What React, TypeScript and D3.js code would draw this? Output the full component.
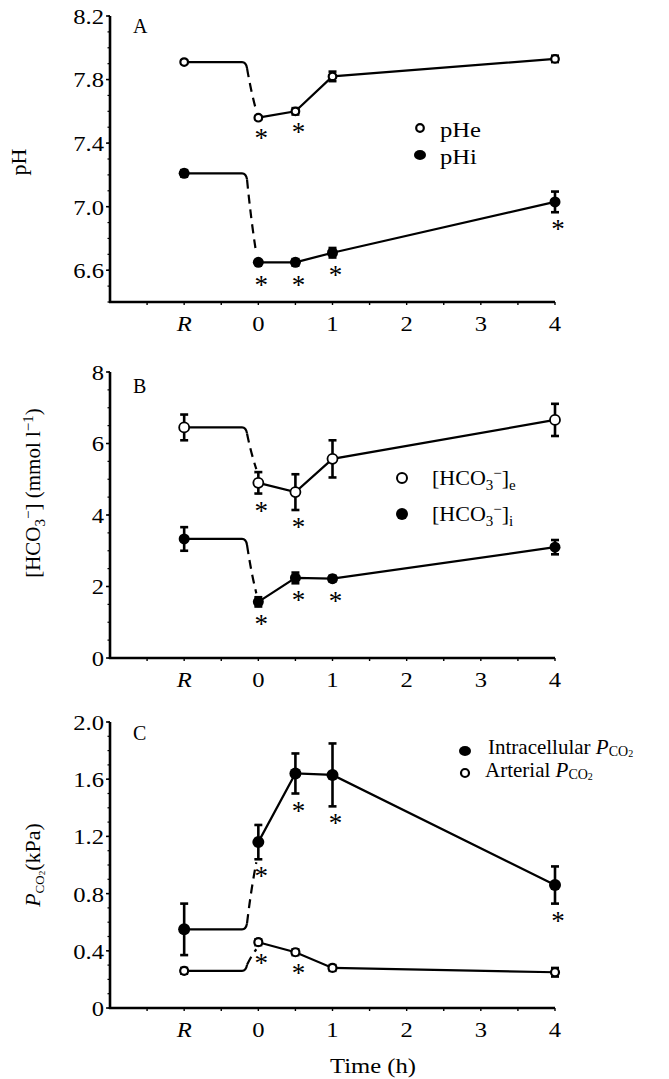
import React from "react";
import * as d3 from "d3";

// Sampling times in hours; -1 stands for the resting value (R)
const sampleTimes = [-1, 0, 0.5, 1, 4];
const timeTickValues = [-1, 0, 1, 2, 3, 4];
const timeTickLabels = ["R", "0", "1", "2", "3", "4"];

// Panel A: pH
const pHeMean = [7.91, 7.56, 7.6, 7.82, 7.93];
const pHeSem = [0.01, 0.01, 0.02, 0.03, 0.02];
const pHeSig = [false, true, true, false, false];
const pHiMean = [7.21, 6.65, 6.65, 6.71, 7.03];
const pHiSem = [0.02, 0.01, 0.02, 0.03, 0.065];
const pHiSig = [false, true, true, true, true];
const pHTicks = [6.6, 7.0, 7.4, 7.8, 8.2];

// Panel B: bicarbonate (mmol l-1)
const hco3eMean = [6.45, 4.9, 4.64, 5.57, 6.66];
const hco3eSem = [0.36, 0.3, 0.5, 0.52, 0.45];
const hco3eSig = [false, true, true, false, false];
const hco3iMean = [3.33, 1.57, 2.24, 2.22, 3.1];
const hco3iSem = [0.33, 0.13, 0.15, 0.08, 0.2];
const hco3iSig = [false, true, true, true, false];
const hco3Ticks = [0, 2, 4, 6, 8];

// Panel C: PCO2 (kPa)
const pco2iMean = [0.55, 1.16, 1.64, 1.63, 0.86];
const pco2iSem = [0.18, 0.12, 0.14, 0.22, 0.13];
const pco2iSig = [false, true, true, true, true];
const pco2aMean = [0.26, 0.46, 0.39, 0.28, 0.25];
const pco2aSem = [0.02, 0.02, 0.02, 0.02, 0.03];
const pco2aSig = [false, true, true, false, false];
const pco2Ticks = [0, 0.4, 0.8, 1.2, 1.6, 2.0];

const FONT = "'Liberation Serif', 'Times New Roman', serif";
const AXIS_X = 110;
const WIDE = 1.12; // horizontal stretch of the numeric labels

const x = d3.scaleLinear().domain([-2, 4]).range([AXIS_X, 555]);

type Series = {
  mean: number[];
  sem: number[];
  sig: boolean[];
  open: boolean;
  r: number;
  sw: number;
};

type PanelProps = {
  y: d3.ScaleLinear<number, number>;
  ticks: number[];
  minorStep: number;
  fmt: (v: number) => string;
  series: Series[];
};

function WideText(props: { x: number; y: number; anchor?: string; size: number; italic?: boolean; children: React.ReactNode; dy?: string }) {
  return (
    <text
      transform={`translate(${props.x},${props.y}) scale(${WIDE},1)`}
      dy={props.dy}
      textAnchor={props.anchor || "start"}
      fontSize={props.size}
      fontFamily={FONT}
      fontStyle={props.italic ? "italic" : "normal"}
      fill="#000"
    >
      {props.children}
    </text>
  );
}

function Panel({ y, ticks, minorStep, fmt, series }: PanelProps) {
  const [d0, d1] = y.domain();
  const yBottom = y(d0);
  const minor = d3.range(d0, d1 + 1e-9, minorStep);
  const xMinor = d3.range(-1.5, 4.01, 0.5);
  const line = d3
    .line<[number, number]>()
    .x((d) => x(d[0]))
    .y((d) => y(d[1]));

  return (
    <g>
      {/* y axis */}
      <line x1={AXIS_X} x2={AXIS_X} y1={yBottom + 1} y2={y(d1)} stroke="#000" strokeWidth={2.6} />
      {minor.map((v, i) => (
        <line key={"ym" + i} x1={AXIS_X - 2.5} x2={AXIS_X} y1={y(v)} y2={y(v)} stroke="#000" strokeWidth={1.2} />
      ))}
      {ticks.map((v) => (
        <g key={"yt" + v}>
          <line x1={AXIS_X - 4} x2={AXIS_X} y1={y(v)} y2={y(v)} stroke="#000" strokeWidth={1.5} />
          <WideText x={AXIS_X - 6} y={y(v)} dy="0.36em" anchor="end" size={22}>
            {fmt(v)}
          </WideText>
        </g>
      ))}
      {/* x axis */}
      <line x1={AXIS_X - 1} x2={x(4)} y1={yBottom} y2={yBottom} stroke="#000" strokeWidth={2.6} />
      {xMinor.map((v, i) => (
        <line key={"xm" + i} x1={x(v)} x2={x(v)} y1={yBottom} y2={yBottom + 3} stroke="#000" strokeWidth={1.4} />
      ))}
      {timeTickValues.map((v, i) => (
        <WideText key={"xt" + v} x={x(v)} y={yBottom + 29} anchor="middle" size={22} italic={timeTickLabels[i] === "R"}>
          {timeTickLabels[i]}
        </WideText>
      ))}

      {series.map((s, si) => {
        const yR = y(s.mean[0]);
        const x0 = x(sampleTimes[1]);
        const y0 = y(s.mean[1]);
        const dir = y0 > yR ? 1 : -1;
        const xa = x(-0.22);
        const cornerY = yR + dir * 6;
        // end of the dashed transition, stopping short of the first marker or its error bar
        const edge = dir > 0 ? Math.min(y0 - s.r, y(s.mean[1] + s.sem[1])) : Math.max(y0 + s.r, y(s.mean[1] - s.sem[1]));
        const yEnd = edge - dir * 3;
        const pts: [number, number][] = sampleTimes.slice(1).map((t, i) => [t, s.mean[i + 1]]);
        return (
          <g key={"s" + si}>
            <path
              d={`M${x(sampleTimes[0])},${yR}H${xa}Q${xa + 4},${yR} ${xa + 5},${cornerY}`}
              fill="none"
              stroke="#000"
              strokeWidth={2.2}
            />
            <path
              d={`M${xa + 5},${cornerY}Q${xa + 9},${cornerY + (yEnd - cornerY) * 0.55} ${x0 - 2},${yEnd}`}
              fill="none"
              stroke="#000"
              strokeWidth={2.2}
              strokeDasharray="9,6"
            />
            <path d={line(pts) || ""} fill="none" stroke="#000" strokeWidth={2.2} />
          </g>
        );
      })}

      {series.map((s, si) => (
        <g key={"e" + si}>
          {sampleTimes.map((t, i) => {
            const cx = x(t);
            const top = y(s.mean[i] + s.sem[i]);
            const bot = y(s.mean[i] - s.sem[i]);
            return (
              <g key={i}>
                <line x1={cx} x2={cx} y1={top} y2={bot} stroke="#000" strokeWidth={2.6} />
                <line x1={cx - 4} x2={cx + 4} y1={top} y2={top} stroke="#000" strokeWidth={2.6} />
                <line x1={cx - 4} x2={cx + 4} y1={bot} y2={bot} stroke="#000" strokeWidth={2.6} />
              </g>
            );
          })}
        </g>
      ))}

      {series.map((s, si) => (
        <g key={"m" + si}>
          {sampleTimes.map((t, i) => (
            <circle
              key={i}
              cx={x(t)}
              cy={y(s.mean[i])}
              r={s.r}
              fill={s.open ? "#fff" : "#000"}
              stroke="#000"
              strokeWidth={s.open ? s.sw : 0}
            />
          ))}
          {sampleTimes.map((t, i) =>
            s.sig[i] ? (
              <text
                key={"a" + i}
                x={x(t) + 3}
                y={Math.max(y(s.mean[i] - s.sem[i]), y(s.mean[i]) + s.r) + 14 + 12}
                textAnchor="middle"
                fontSize={27}
                fontFamily={FONT}
                fill="#000"
              >
                *
              </text>
            ) : null
          )}
        </g>
      ))}
    </g>
  );
}

export default function App() {
  const yA = d3.scaleLinear().domain([6.4, 8.2]).range([302, 16]);
  const yB = d3.scaleLinear().domain([0, 8]).range([658, 372]);
  const yC = d3.scaleLinear().domain([0, 2]).range([1008, 722]);

  return (
    <svg
      width={669}
      height={1079}
      viewBox="0 0 669 1079"
      style={{ position: "absolute", left: 0, top: 0, background: "#fff" }}
      fontFamily={FONT}
    >
      <rect width={669} height={1079} fill="#fff" />

      {/* A: pH */}
      <Panel
        y={yA}
        ticks={pHTicks}
        minorStep={0.1}
        fmt={(v) => v.toFixed(1)}
        series={[
          { mean: pHeMean, sem: pHeSem, sig: pHeSig, open: true, r: 3.8, sw: 2.2 },
          { mean: pHiMean, sem: pHiSem, sig: pHiSig, open: false, r: 5.5, sw: 0 },
        ]}
      />
      <text x={133} y={33} fontSize={20} fontFamily={FONT}>A</text>
      <text transform="translate(26,162) rotate(-90)" textAnchor="middle" fontSize={22} fontFamily={FONT}>pH</text>
      <circle cx={420} cy={128} r={3.8} fill="#fff" stroke="#000" strokeWidth={2.2} />
      <WideText x={440} y={137} size={22}>pHe</WideText>
      <ellipse cx={420} cy={155} rx={6} ry={5} fill="#000" />
      <WideText x={440} y={164} size={22}>pHi</WideText>

      {/* B: bicarbonate */}
      <Panel
        y={yB}
        ticks={hco3Ticks}
        minorStep={0.5}
        fmt={(v) => String(v)}
        series={[
          { mean: hco3eMean, sem: hco3eSem, sig: hco3eSig, open: true, r: 5, sw: 1.8 },
          { mean: hco3iMean, sem: hco3iSem, sig: hco3iSig, open: false, r: 5.5, sw: 0 },
        ]}
      />
      <text x={133} y={393} fontSize={20} fontFamily={FONT}>B</text>
      <text transform="translate(40,493) rotate(-90)" textAnchor="middle" fontSize={21} fontFamily={FONT}>
        [HCO<tspan fontSize={15} dy={5}>3</tspan>
        <tspan fontSize={15} dy={-12}>−</tspan>
        <tspan dy={7}>] (mmol l</tspan>
        <tspan fontSize={15} dy={-7}>−1</tspan>
        <tspan dy={7}>)</tspan>
      </text>
      <circle cx={402} cy={478} r={5} fill="#fff" stroke="#000" strokeWidth={2} />
      <text x={432} y={485} fontSize={22} fontFamily={FONT}>
        [HCO<tspan fontSize={15} dy={5}>3</tspan>
        <tspan fontSize={15} dy={-12}>−</tspan>
        <tspan dy={7}>]</tspan>
        <tspan fontSize={15} dy={5}>e</tspan>
      </text>
      <circle cx={402} cy={514} r={6} fill="#000" />
      <text x={432} y={521} fontSize={22} fontFamily={FONT}>
        [HCO<tspan fontSize={15} dy={5}>3</tspan>
        <tspan fontSize={15} dy={-12}>−</tspan>
        <tspan dy={7}>]</tspan>
        <tspan fontSize={15} dy={5}>i</tspan>
      </text>

      {/* C: PCO2 */}
      <Panel
        y={yC}
        ticks={pco2Ticks}
        minorStep={0.1}
        fmt={(v) => (v === 0 ? "0" : v.toFixed(1))}
        series={[
          { mean: pco2iMean, sem: pco2iSem, sig: pco2iSig, open: false, r: 6, sw: 0 },
          { mean: pco2aMean, sem: pco2aSem, sig: pco2aSig, open: true, r: 4, sw: 2.2 },
        ]}
      />
      <text x={133} y={740} fontSize={20} fontFamily={FONT}>C</text>
      <text transform="translate(40,865) rotate(-90)" textAnchor="middle" fontSize={22} fontFamily={FONT}>
        <tspan fontStyle="italic">P</tspan>
        <tspan fontSize={13} dy={4}>CO</tspan>
        <tspan fontSize={9} dy={1}>2</tspan>
        <tspan dy={-5}>(kPa)</tspan>
      </text>
      <ellipse cx={465} cy={751} rx={6} ry={5} fill="#000" />
      <text x={488} y={754} fontSize={21} fontFamily={FONT}>
        Intracellular <tspan fontStyle="italic">P</tspan>
        <tspan fontSize={14} dy={2}>CO</tspan>
        <tspan fontSize={10} dy={1}>2</tspan>
      </text>
      <circle cx={465} cy={773} r={4} fill="#fff" stroke="#000" strokeWidth={2.2} />
      <text x={485} y={777} fontSize={21} fontFamily={FONT}>
        Arterial <tspan fontStyle="italic">P</tspan>
        <tspan fontSize={14} dy={2}>CO</tspan>
        <tspan fontSize={10} dy={1}>2</tspan>
      </text>
      <WideText x={373} y={1073} anchor="middle" size={22}>Time (h)</WideText>
    </svg>
  );
}
